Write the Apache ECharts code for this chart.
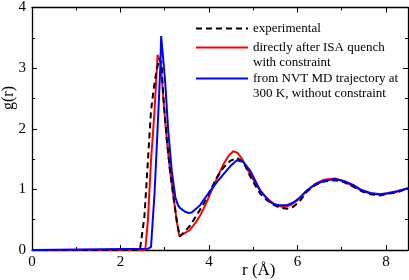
<!DOCTYPE html>
<html>
<head>
<meta charset="utf-8">
<script src="https://cdn.jsdelivr.net/npm/echarts@6/dist/echarts.min.js"></script>
<style>html,body{margin:0;padding:0;background:#fff}#c{width:409px;height:280px}</style>
</head>
<body>
<div id="c"></div>
<script>
// ---- data ----
var seriesNames = ['experimental', 'directly after ISA quench\nwith constraint', 'from NVT MD trajectory at\n300 K, without constraint'];
var xTicks = [0, 2, 4, 6, 8];
var yTicks = [0, 1, 2, 3, 4];

var rExp = [0, 2.44, 2.54, 2.62, 2.69, 2.75, 2.81, 2.88, 2.93, 2.97, 3.05, 3.12, 3.2, 3.27, 3.34, 3.45, 3.57, 3.7, 3.88, 4.03, 4.18, 4.33, 4.48, 4.63, 4.78, 4.93, 5.05, 5.16, 5.3, 5.45, 5.6, 5.76, 5.9, 6.05, 6.21, 6.4, 6.6, 6.85, 7.05, 7.27, 7.45, 7.65, 7.87, 8.05, 8.25, 8.5];
var gExp = [0, 0, 0.54, 1.47, 2.29, 2.65, 2.94, 3.16, 3.08, 2.5, 1.8, 1.31, 0.87, 0.49, 0.22, 0.3, 0.4, 0.55, 0.76, 0.98, 1.2, 1.36, 1.47, 1.52, 1.45, 1.22, 1.06, 0.93, 0.83, 0.75, 0.7, 0.68, 0.71, 0.8, 0.96, 1.07, 1.13, 1.15, 1.12, 1.04, 0.97, 0.92, 0.9, 0.93, 0.95, 1.02];

var rIsa = [0, 2.56, 2.62, 2.69, 2.77, 2.84, 2.91, 2.97, 3.05, 3.12, 3.2, 3.27, 3.33, 3.45, 3.57, 3.7, 3.8, 3.92, 4.03, 4.18, 4.33, 4.45, 4.55, 4.65, 4.75, 4.85, 4.93, 5.05, 5.16, 5.3, 5.45, 5.6, 5.7, 5.85, 6.0, 6.2, 6.4, 6.6, 6.85, 7.05, 7.27, 7.45, 7.65, 7.87, 8.05, 8.25, 8.5];
var gIsa = [0, 0, 0.49, 1.47, 2.29, 3.22, 3.08, 2.5, 1.8, 1.31, 0.87, 0.49, 0.23, 0.28, 0.33, 0.45, 0.57, 0.74, 0.93, 1.18, 1.42, 1.56, 1.63, 1.6, 1.5, 1.36, 1.25, 1.1, 0.98, 0.86, 0.77, 0.72, 0.71, 0.74, 0.82, 0.97, 1.09, 1.16, 1.18, 1.13, 1.05, 0.98, 0.93, 0.91, 0.93, 0.96, 1.02];

var rMd = [0, 2.62, 2.69, 2.77, 2.84, 2.9, 2.92, 2.96, 3.01, 3.08, 3.16, 3.24, 3.3, 3.35, 3.46, 3.54, 3.61, 3.8, 4.03, 4.18, 4.33, 4.48, 4.63, 4.78, 4.93, 5.05, 5.16, 5.38, 5.5, 5.61, 5.76, 5.9, 6.05, 6.21, 6.4, 6.6, 6.85, 7.05, 7.27, 7.45, 7.65, 7.87, 8.05, 8.25, 8.5];
var gMd = [0, 0.02, 0.05, 0.93, 2.01, 3.0, 3.53, 3.2, 2.78, 1.96, 1.3, 0.87, 0.74, 0.69, 0.63, 0.61, 0.62, 0.74, 0.98, 1.12, 1.25, 1.38, 1.48, 1.45, 1.31, 1.14, 0.98, 0.79, 0.75, 0.74, 0.74, 0.78, 0.86, 0.98, 1.08, 1.14, 1.17, 1.14, 1.07, 0.99, 0.94, 0.92, 0.94, 0.97, 1.02];

function pairs(xs, ys) { return xs.map(function (x, i) { return [x, ys[i]]; }); }

var FONT = 'Liberation Serif';
var chart = echarts.init(document.getElementById('c'), null, { renderer: 'canvas' });

function axisCommon(extra) {
  var base = {
    type: 'value',
    axisLine: { show: true, onZero: false, lineStyle: { color: '#000', width: 1.3 } },
    axisTick: { show: true, inside: true, length: 5, lineStyle: { color: '#000', width: 1 } },
    minorTick: { show: true, splitNumber: 2, length: 3, lineStyle: { color: '#000', width: 1 } },
    splitLine: { show: false },
    minorSplitLine: { show: false }
  };
  for (var k in extra) base[k] = extra[k];
  return base;
}

var legendText = { fontFamily: FONT, fontSize: 13, color: '#000', lineHeight: 15 };
// leading empty line keeps the first text line level with the legend line sample
function legendFmt(name) { return name.indexOf('\n') >= 0 ? '\n' + name : name; }
function legendOf(idx, top) {
  return { data: [seriesNames[idx]], orient: 'vertical', left: 195, top: top, padding: 0,
    itemWidth: 52, itemHeight: 10, itemGap: 0,
    itemStyle: { opacity: 0 }, textStyle: legendText, formatter: legendFmt, selectedMode: false };
}

chart.setOption({
  animation: false,
  backgroundColor: '#fff',
  grid: { left: 32, right: 1, top: 5, bottom: 30, containLabel: false },
  xAxis: [
    axisCommon({ position: 'bottom', min: 0, max: 8.5, interval: 2,
      axisLabel: { show: true, margin: 5, fontFamily: FONT, fontSize: 15, color: '#000', showMaxLabel: false,
        formatter: function (v) { return xTicks.indexOf(v) >= 0 ? String(v) : ''; } } }),
    axisCommon({ position: 'top', min: 0, max: 8.5, interval: 2, axisLabel: { show: false } })
  ],
  yAxis: [
    axisCommon({ position: 'left', min: 0, max: 4, interval: 1,
      axisLabel: { show: true, margin: 6, fontFamily: FONT, fontSize: 15, color: '#000',
        formatter: function (v) { return yTicks.indexOf(v) >= 0 ? String(v) : ''; } } }),
    axisCommon({ position: 'right', min: 0, max: 4, interval: 1, axisLabel: { show: false } })
  ],
  legend: [legendOf(0, 21), legendOf(1, 25), legendOf(2, 56)],
  graphic: [
    { type: 'text', left: 242, top: 262, style: { text: 'r (Å)', fontFamily: FONT, fontSize: 17, fill: '#000' } },
    { type: 'text', x: 9, y: 98, rotation: Math.PI / 2,
      style: { text: 'g(r)', fontFamily: FONT, fontSize: 16, fill: '#000', align: 'center', verticalAlign: 'middle' } }
  ],
  series: [
    { name: seriesNames[0], type: 'line', data: pairs(rExp, gExp), symbol: 'none', showSymbol: false, z: 3,
      lineStyle: { color: '#000', width: 2, type: [6, 4] }, itemStyle: { color: '#000' } },
    { name: seriesNames[1], type: 'line', data: pairs(rIsa, gIsa), symbol: 'none', showSymbol: false, z: 2,
      lineStyle: { color: '#ff0000', width: 2 }, itemStyle: { color: '#ff0000' } },
    { name: seriesNames[2], type: 'line', data: pairs(rMd, gMd), symbol: 'none', showSymbol: false, z: 4,
      lineStyle: { color: '#0000ff', width: 2 }, itemStyle: { color: '#0000ff' } }
  ]
});
</script>
</body>
</html>
